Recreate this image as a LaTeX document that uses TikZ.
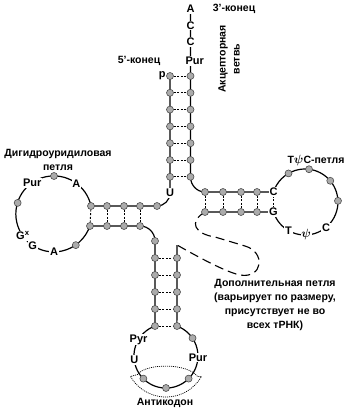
\documentclass[tikz,border=0pt]{standalone}
\usepackage{fontspec}
\setmainfont{Liberation Sans}
\usetikzlibrary{calc, positioning}
\tikzset{
  nt/.style ={circle, draw=black!70, fill=black!33, line width=0.6pt, inner sep=0pt, minimum size=7pt},
  bs/.style ={fill=white, inner sep=0.8pt, font=\bfseries\fontsize{11}{12}\selectfont},
  lbl/.style ={align=center, font=\bfseries\fontsize{10.5}{14}\selectfont},
  bb/.style ={line width=1.2pt},
  hb/.style ={line width=0.9pt, dash pattern=on 2pt off 1.6pt},
  var/.style ={line width=1.1pt, dash pattern=on 9pt off 5pt},
  ac/.style ={line width=0.7pt, dash pattern=on 1pt off 1pt},
}
\newcommand{\psib}{{\boldmath$\psi$}}

\begin{document}
\begin{tikzpicture}[x=1pt, y=-1pt, node distance=0pt]
  \useasboundingbox (0,0) rectangle (346,412);
  % acceptor stem
  \foreach \y [count=\i] in {76,92.8,109.6,126.4,143.2,160,176.8} {
    \coordinate (al\i) at (170,\y);
    \coordinate (ar\i) at (190.5,\y);
  }
  \coordinate (a3) at (190.5,9);
  \coordinate (c3a) at (190.5,25.5);
  \coordinate (c3b) at (190.5,42);
  \coordinate (u8) at (170,193);
  % D arm
  \coordinate (dc) at (54,214);
  \coordinate (du1) at (91,206);
  \coordinate (dl1) at (90,226);
  \foreach \x [count=\i from 2] in {107,124,140} {
    \coordinate (du\i) at (\x,206);
    \coordinate (dl\i) at (\x,226);
  }
  \coordinate (du5) at (157,206);
  % anticodon arm
  \coordinate (cc) at (166,356);
  \coordinate (cl0) at (155,241);
  \coordinate (vtop) at (177,245);
  \foreach \y [count=\i] in {258,275,292,309,326} {
    \coordinate (cl\i) at (155,\y);
    \coordinate (cr\i) at (177,\y);
  }
  % T arm
  \coordinate (tc) at (305,202);
  \coordinate (tC) at (273.5,192);
  \coordinate (tG) at (273.5,212);
  \foreach \x [count=\i] in {205,223,241,257} {
    \coordinate (tu\i) at (\x,192);
    \coordinate (tb\i) at (\x,212);
  }

  % backbone
  \draw[bb] (a3) -- (ar7) to[out=-90,in=180] (tu1) -- (tC);
  \draw[bb] (al1) -- (u8) to[out=-90,in=0] (du5) -- (du1)
            arc[start angle=12, end angle=342, radius=38pt];
  \draw[bb] (dl1) -- (dl4) to[out=0,in=90] (cl0) -- (cl5)
            arc[start angle=110, end angle=430, radius=32pt] -- (vtop);
  \draw[bb] (tb1) -- (tG) arc[start angle=197.64, end angle=522.36, radius=33pt];

  % pairs
  \foreach \i in {1,...,7} \draw[hb] (al\i) -- (ar\i);
  \foreach \i in {1,...,4} \draw[hb] (du\i) -- (dl\i);
  \foreach \i in {1,...,5} \draw[hb] (cl\i) -- (cr\i);
  \foreach \i in {1,...,4} \draw[hb] (tu\i) -- (tb\i);
  \draw[hb] (tC) -- (tG);

  % variable loop
  \draw[var] (tb1) .. controls (188,222) and (195,234) .. (215,237) -- (245,246)
             .. controls (266,252) and (263,279) .. (240,275)
             .. controls (226,272) and (200,258) .. (vtop);

  % anticodon
  \draw[ac] ($(cc)+(210:41pt)$) arc[start angle=210, end angle=330, radius=41pt]
            -- (197.5,376.5) .. controls (188,363) and (146,363) .. (137.5,374.5) -- cycle;

  % nucleotides
  \foreach \i in {1,...,7} {
    \node[nt] (nal\i) at (al\i) {};
    \node[nt] (nar\i) at (ar\i) {};
  }
  \foreach \i in {1,...,4} {
    \node[nt] (ndu\i) at (du\i) {};
    \node[nt] (ndl\i) at (dl\i) {};
    \node[nt] (ntu\i) at (tu\i) {};
    \node[nt] (ntb\i) at (tb\i) {};
  }
  \node[nt] (ndu5) at (du5) {};
  \node[nt] (ncl0) at (cl0) {};
  \foreach \i in {1,...,5} {
    \node[nt] (ncl\i) at (cl\i) {};
    \node[nt] (ncr\i) at (cr\i) {};
  }
  \foreach \a in {90,163,305} \node[nt] (dd\a) at ($(dc)+(\a:38pt)$) {};
  \foreach \a in {34,225,270,315} \node[nt] (cd\a) at ($(cc)+(\a:32pt)$) {};
  \foreach \a in {120,83,40,2} \node[nt] (td\a) at ($(tc)+(\a:33pt)$) {};

  % bases
  \node[bs] (nA) at (a3) {A};
  \node[bs] (nC1) at (c3a) {C};
  \node[bs] (nC2) at (c3b) {C};
  \node[bs, anchor=west] (nPur) at (184.5,61) {Pur};
  \node[bs, fill=none, left=3.5pt of al1] (np) {p};
  \node[bs] (nU) at (u8) {U};
  \node[bs] (dPur) at ($(dc)+(125:38pt)$) {Pur};
  \node[bs] (dA1) at ($(dc)+(54:38pt)$) {A};
  \node[bs] (dGx) at ($(dc)+(215:38pt)$) {G\textsuperscript{x}};
  \node[bs] (dG) at ($(dc)+(236:38pt)$) {G};
  \node[bs] (dA2) at ($(dc)+(270:38pt)$) {A};
  \node[bs] (nTC) at (tC) {C};
  \node[bs] (nTG) at (tG) {G};
  \node[bs] (tT) at ($(tc)+(240:33pt)$) {T};
  \node[bs, font=\fontsize{13}{13}\selectfont] (tPsi) at ($(tc)+(272:33pt)$) {\psib};
  \node[bs] (tC2) at ($(tc)+(310:33pt)$) {C};
  \node[bs] (cPyr) at ($(cc)+(149:32pt)$) {Pyr};
  \node[bs] (cU) at ($(cc)+(187:32pt)$) {U};
  \node[bs] (cPur) at ($(cc)+(-3:32pt)$) {Pur};

  % labels
  \node[lbl] (l3) at (234,9) {3'-конец};
  \node[lbl] (l5) at (139,61) {5'-конец};
  \node[lbl, rotate=90] (lacc) at (229,59) {Акцепторная\\ветвь};
  \node[lbl] (ldhu) at (58,159.5) {Дигидроуридиловая\\петля};
  \node[lbl] (ltpc) at (316,160) {T{\fontsize{12}{12}\selectfont\psib}C-петля};
  \node[lbl] (lvar) at (275,305) {Дополнительная петля\\(варьирует по размеру,\\присутствует не во\\всех тРНК)};
  \node[lbl] (lac) at (165,403) {Антикодон};
\end{tikzpicture}
\end{document}
